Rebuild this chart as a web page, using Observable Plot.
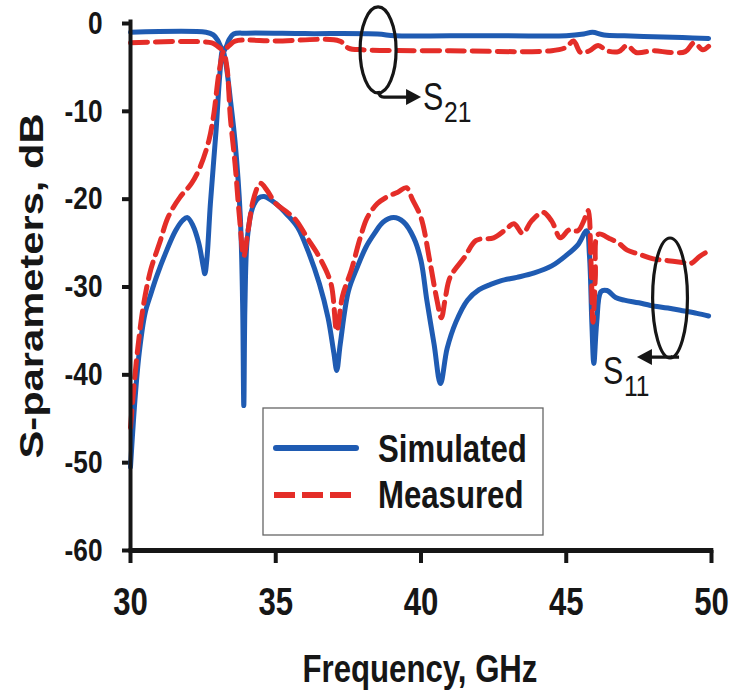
<!DOCTYPE html>
<html><head><meta charset="utf-8">
<script src="https://cdn.jsdelivr.net/npm/d3@7"></script>
<script src="https://cdn.jsdelivr.net/npm/@observablehq/plot@0.6"></script>
<style>body{margin:0;background:#fff}</style>
</head><body><div id="chart"></div>
<script>
// ---- data (frequency in GHz, level in dB) ----
const simS21F  = [30.0, 32.6, 32.85, 33.0, 33.1, 33.2, 33.3, 33.4, 33.55, 34.0, 36.0, 38.5, 39.1, 41.0, 43.0, 45.0, 45.6, 45.9, 46.3, 47.0, 48.0, 49.0, 49.9];
const simS21dB = [-1.0, -1.0, -1.3, -1.9, -2.6, -3.2, -2.6, -1.8, -1.2, -1.1, -1.15, -1.2, -1.4, -1.4, -1.4, -1.4, -1.2, -1.0, -1.3, -1.4, -1.5, -1.6, -1.7];

const measS21F  = [30.0, 32.8, 33.0, 33.2, 33.4, 33.6, 35.0, 37.2, 37.5, 38.0, 41.0, 44.5, 45.0, 45.25, 45.5, 45.8, 46.1, 46.4, 46.8, 47.1, 47.4, 48.0, 48.6, 49.1, 49.4, 49.7, 49.9];
const measS21dB = [-2.2, -2.2, -2.6, -3.0, -2.5, -2.0, -2.0, -2.0, -2.8, -3.0, -3.1, -3.1, -2.7, -2.0, -3.3, -3.1, -2.5, -3.1, -3.2, -2.5, -3.3, -3.1, -3.3, -3.2, -2.2, -3.0, -2.6];

const simS11F  = [30.0, 30.15, 30.3, 30.5, 30.7, 30.9, 31.2, 31.55, 31.8, 31.96, 32.15, 32.35, 32.5, 32.56, 32.63, 32.75, 32.95, 33.07, 33.17, 33.28, 33.45, 33.6, 33.78, 33.86, 33.9, 33.94, 34.02, 34.2, 34.4, 34.6, 35.0, 35.4, 35.75, 36.1, 36.5, 36.8, 37.0, 37.1, 37.22, 37.5, 37.8, 38.1, 38.4, 38.7, 39.06, 39.4, 39.75, 40.0, 40.2, 40.45, 40.67, 40.9, 41.2, 41.6, 42.0, 42.4, 42.74, 43.3, 43.9, 44.5, 45.0, 45.4, 45.7, 45.8, 45.88, 45.95, 46.05, 46.2, 46.4, 46.7, 47.0, 47.5, 47.9, 48.5, 49.0, 49.5, 49.9];
const simS11dB = [-50.5, -43.0, -37.5, -33.0, -30.8, -28.8, -26.2, -23.6, -22.4, -22.1, -23.0, -25.0, -27.6, -28.5, -26.8, -20.5, -12.0, -6.0, -3.0, -4.5, -9.0, -13.5, -22.0, -32.0, -43.5, -32.0, -24.5, -21.0, -19.9, -19.7, -20.5, -21.8, -23.2, -25.8, -29.6, -33.5, -37.5, -39.5, -36.5, -30.5, -27.8, -25.5, -23.9, -22.6, -22.1, -22.6, -24.4, -27.0, -31.5, -36.5, -41.0, -37.0, -34.0, -31.5, -30.3, -29.7, -29.3, -28.9, -28.4, -27.6, -26.4, -25.2, -23.6, -26.5, -34.0, -38.7, -34.0, -30.5, -30.4, -31.2, -31.5, -31.8, -32.1, -32.4, -32.7, -33.0, -33.3];

const measS11F  = [30.0, 30.1, 30.25, 30.45, 30.7, 31.0, 31.3, 31.7, 32.1, 32.4, 32.7, 32.86, 33.05, 33.2, 33.32, 33.44, 33.6, 33.75, 33.9, 34.05, 34.25, 34.47, 34.7, 35.0, 35.4, 35.7, 36.1, 36.5, 36.9, 37.1, 37.3, 37.6, 37.9, 38.15, 38.5, 38.8, 39.2, 39.5, 39.7, 40.0, 40.3, 40.55, 40.7, 40.85, 41.0, 41.5, 41.9, 42.5, 42.9, 43.2, 43.5, 43.8, 44.2, 44.5, 44.8, 45.1, 45.4, 45.6, 45.75, 45.85, 45.92, 46.0, 46.1, 46.5, 46.8, 47.1, 47.45, 48.0, 48.5, 49.0, 49.3, 49.6, 49.9];
const measS11dB = [-46.0, -42.0, -37.0, -32.0, -28.0, -25.0, -22.0, -19.8, -18.2, -16.3, -13.3, -10.5, -5.5, -3.2, -5.0, -10.8, -16.0, -22.0, -26.5, -23.5, -19.8, -18.2, -19.0, -20.5, -21.5, -22.4, -24.5, -26.6, -29.6, -35.0, -31.0, -28.1, -24.5, -22.1, -20.5, -19.8, -19.2, -18.7, -20.0, -22.1, -27.0, -31.5, -33.5, -31.0, -28.9, -26.6, -24.7, -24.4, -23.5, -22.8, -23.9, -22.5, -21.5, -22.5, -24.4, -23.5, -23.6, -22.5, -21.3, -27.0, -34.0, -29.0, -24.0, -24.5, -25.0, -25.8, -26.2, -26.8, -27.0, -27.2, -27.3, -26.5, -25.9];

const xTicks = [30, 35, 40, 45, 50];
const yTicks = [0, -10, -20, -30, -40, -50, -60];
const seriesNames = ["Simulated", "Measured"];
const xTitle = "Frequency, GHz";
const yTitle = "S-parameters, dB";

// annotation groups: label S with subscript, ellipse around curves, arrow to label
const annSub   = ["21", "11"];
const annCx    = [38.54, 48.59];
const annCy    = [-3.07, -31.31];
const annRx    = [0.62, 0.60];
const annRy    = [4.9, 6.83];
const annAx1   = [38.74, 48.9];
const annAx2   = [40.02, 47.45];
const annAy    = [-8.43, -38.03];
const annTx    = [40.09, 46.28];
const annTy    = [-9.9, -41.1];

// ---- build ----
const rows = (f, v) => f.map((x, i) => ({f: x, dB: v[i]}));
const blue = "#1f5bb2", red = "#e42d28", ink = "#161616";
const annotations = annSub.map((s, i) => ({sub: s, cx: annCx[i], cy: annCy[i], rx: annRx[i], ry: annRy[i], ax1: annAx1[i], ax2: annAx2[i], ay: annAy[i], tx: annTx[i], ty: annTy[i]}));

function annotationMark(index, scales) {
  const g = d3.create("svg:g").attr("class", "ann");
  for (const a of annotations) {
    const cx = scales.x(a.cx), cy = scales.y(a.cy);
    const rx = scales.x(a.cx + a.rx) - cx, ry = scales.y(a.cy - a.ry) - cy;
    g.append("ellipse").attr("cx", cx).attr("cy", cy).attr("rx", rx).attr("ry", ry)
      .attr("fill", "none").attr("stroke", ink).attr("stroke-width", 3.2);
    const x1 = scales.x(a.ax1), x2 = scales.x(a.ax2), y = scales.y(a.ay);
    const dir = Math.sign(x2 - x1);
    const bottom = cy + ry;
    g.append("path").attr("d", `M${cx},${bottom - 2}Q${cx + 1},${y} ${x1 + 0},${y}L${x2 - dir * 12},${y}`)
      .attr("fill", "none").attr("stroke", ink).attr("stroke-width", 3.2);
    g.append("path").attr("d", `M${x2},${y}L${x2 - dir * 15},${y - 8}L${x2 - dir * 15},${y + 8}Z`).attr("fill", ink);
    const tx = scales.x(a.tx), ty = scales.y(a.ty);
    g.append("text").attr("class", "annS").attr("x", tx).attr("y", ty).attr("font-size", 38)
      .attr("text-anchor", "start").attr("font-weight", "normal").attr("fill", ink).text("S");
    g.append("text").attr("class", "annSub").attr("x", tx + 21).attr("y", ty + 12).attr("font-size", 30)
      .attr("text-anchor", "start").attr("font-weight", "normal").attr("fill", ink).text(a.sub);
  }
  return g.node();
}

function legendMark() {
  const g = d3.create("svg:g");
  g.append("rect").attr("x", 263).attr("y", 408).attr("width", 280).attr("height", 127)
    .attr("fill", "white").attr("stroke", "#666").attr("stroke-width", 1.3);
  g.append("line").attr("x1", 276).attr("x2", 356).attr("y1", 448).attr("y2", 448)
    .attr("stroke", blue).attr("stroke-width", 6).attr("stroke-linecap", "round");
  g.append("line").attr("x1", 274).attr("x2", 352).attr("y1", 495).attr("y2", 495)
    .attr("stroke", red).attr("stroke-width", 6).attr("stroke-dasharray", "21,7");
  g.append("text").attr("class", "leg").attr("x", 378).attr("y", 462).attr("font-size", 38).attr("text-anchor", "start").attr("fill", ink).text(seriesNames[0]);
  g.append("text").attr("class", "leg").attr("x", 378).attr("y", 508).attr("font-size", 38).attr("text-anchor", "start").attr("fill", ink).text(seriesNames[1]);
  g.append("text").attr("class", "xt").attr("x", 420).attr("y", 682).attr("font-size", 38).attr("text-anchor", "middle").attr("fill", ink).text(xTitle);
  g.append("text").attr("class", "yt").attr("transform", "translate(43,286) rotate(-90)").attr("font-size", 34).attr("text-anchor", "middle").attr("fill", ink).text(yTitle);
  return g.node();
}

const chart = Plot.plot({
  width: 731, height: 691,
  marginLeft: 130, marginRight: 20, marginTop: 23, marginBottom: 141,
  style: {fontFamily: "'Liberation Sans', Arial, sans-serif", fontWeight: "bold", background: "white", color: ink},
  x: {domain: [30, 50]},
  y: {domain: [-60, 0]},
  marks: [
    Plot.axisY({ticks: yTicks, tickSize: 8, tickPadding: 20, strokeWidth: 4, tickFormat: d => String(d), label: null, fontSize: 32}),
    Plot.axisX({ticks: xTicks, tickSize: 13, tickPadding: 25, strokeWidth: 4, tickFormat: d => String(d), label: null, fontSize: 38}),
    Plot.line(rows(simS11F, simS11dB), {x: "f", y: "dB", stroke: blue, strokeWidth: 5, curve: "catmull-rom"}),
    Plot.line(rows(simS21F, simS21dB), {x: "f", y: "dB", stroke: blue, strokeWidth: 5, curve: "catmull-rom"}),
    Plot.line(rows(measS11F, measS11dB), {x: "f", y: "dB", stroke: red, strokeWidth: 5, strokeDasharray: "17,8", curve: "catmull-rom"}),
    Plot.line(rows(measS21F, measS21dB), {x: "f", y: "dB", stroke: red, strokeWidth: 5, strokeDasharray: "17,8", curve: "catmull-rom"}),
    Plot.ruleX([30], {stroke: ink, strokeWidth: 4, y1: -60, y2: 0.4}),
    Plot.ruleY([-60], {stroke: ink, strokeWidth: 5, x1: 29.95, x2: 50.08}),
    annotationMark,
    legendMark
  ]
});
document.getElementById("chart").appendChild(chart);

function squeeze(sel, factor, fixed) {
  sel.each(function () {
    const L = this.getComputedTextLength();
    if (L > 0) {
      this.setAttribute("textLength", fixed ? fixed : L * factor);
      this.setAttribute("lengthAdjust", "spacingAndGlyphs");
    }
  });
}
const svg = d3.select(chart);
svg.selectAll('g[aria-label="y-axis tick label"]').attr("font-size", 32);
svg.selectAll('g[aria-label="x-axis tick label"]').attr("font-size", 38);
squeeze(svg.selectAll('g[aria-label="y-axis tick label"] text'), 0.82);
squeeze(svg.selectAll('g[aria-label="x-axis tick label"] text'), 0.82);
squeeze(svg.selectAll("text.leg"), 0.82);
squeeze(svg.selectAll("text.xt"), 0.82);
squeeze(svg.selectAll("text.yt"), 1, 345);
squeeze(svg.selectAll("text.annS"), 0.8);
squeeze(svg.selectAll("text.annSub"), 0.82);
</script>
</body></html>
